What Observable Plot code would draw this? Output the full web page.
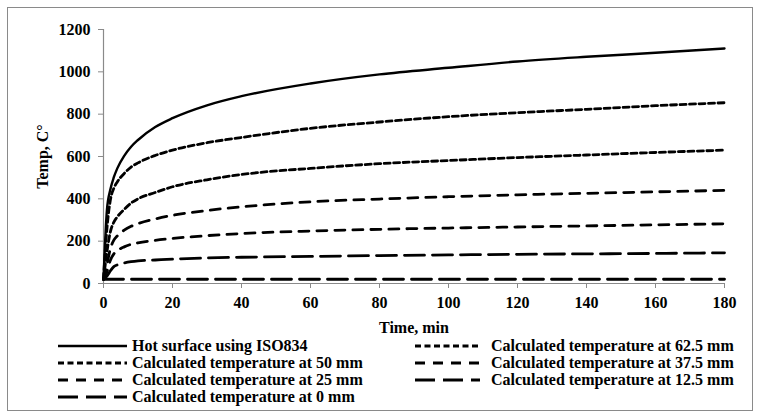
<!DOCTYPE html>
<html>
<head>
<meta charset="utf-8">
<script src="https://cdn.jsdelivr.net/npm/d3@7"></script>
<script src="https://cdn.jsdelivr.net/npm/@observablehq/plot@0.6"></script>
<style>
  html, body { margin: 0; padding: 0; background: #fff; }
  body { width: 760px; height: 417px; position: relative; overflow: hidden;
         font-family: "Liberation Serif", "Times New Roman", serif; font-weight: bold; font-size: 16px; color: #000; }
  #frame { position: absolute; left: 7px; top: 7px; width: 746px; height: 404px; box-sizing: border-box;
           border: 1px solid #8a8a8a; pointer-events: none; }
  #chart { position: absolute; left: 0; top: 0; }
  .item { position: absolute; display: flex; align-items: center; height: 18px; white-space: nowrap; line-height: 18px; }
  .item svg { display: block; }
</style>
</head>
<body>
<div id="chart"></div>
<div id="legend"></div>
<div id="frame"></div>
<script>
// ---- data ----
const time = [0, 1, 2, 3, 4, 6, 8, 10, 15, 20, 30, 40, 60, 80, 100, 120, 140, 160, 180];
const hotSurface = [20, 349, 445, 502, 544, 603, 646, 678, 739, 781, 842, 885, 945, 988, 1019, 1049, 1071, 1090, 1110];
const at62_5 = [20, 260, 395, 450, 480, 520, 550, 570, 605, 630, 665, 690, 733, 763, 788, 807, 823, 840, 854];
const at50 = [20, 150, 245, 290, 315, 350, 380, 400, 430, 457, 490, 515, 544, 566, 581, 595, 607, 619, 630];
const at37_5 = [20, 90, 165, 205, 225, 252, 270, 283, 305, 322, 345, 362, 386, 399, 410, 419, 426, 433, 440];
const at25 = [20, 55, 110, 140, 155, 173, 185, 192, 204, 213, 226, 236, 248, 256, 262, 267, 272, 277, 282];
const at12_5 = [20, 35, 60, 80, 88, 97, 103, 107, 111, 115, 121, 124, 128, 132, 135, 138, 140, 142, 145];
const at0 = [20, 20, 20, 20, 20, 20, 20, 20, 20, 20, 20, 20, 20, 20, 20, 20, 20, 20, 20];

const seriesNames = [
  "Hot surface using ISO834",
  "Calculated temperature at 62.5 mm",
  "Calculated temperature at 50 mm",
  "Calculated temperature at 37.5 mm",
  "Calculated temperature at 25 mm",
  "Calculated temperature at 12.5 mm",
  "Calculated temperature at 0 mm"
];
const seriesValues = [hotSurface, at62_5, at50, at37_5, at25, at12_5, at0];
const xTicks = [0, 20, 40, 60, 80, 100, 120, 140, 160, 180];
const yTicks = [0, 200, 400, 600, 800, 1000, 1200];

// ---- styles ----
const lineStyles = [
  {dash: null, width: 2.4},
  {dash: "6,3.5", width: 2.8},
  {dash: "6,3.5", width: 2.8},
  {dash: "10,8", width: 2.8},
  {dash: "10,8", width: 2.8},
  {dash: "20,8", width: 2.8},
  {dash: "20,8", width: 2.8}
];

const rows = [];
seriesNames.forEach((name, s) => {
  time.forEach((t, i) => rows.push({series: name, t, v: seriesValues[s][i]}));
});

const lineMarks = seriesNames.map((name, s) =>
  Plot.line(rows.filter(d => d.series === name), {
    x: "t", y: "v", stroke: "black",
    strokeWidth: lineStyles[s].width,
    strokeDasharray: lineStyles[s].dash || undefined,
    curve: "monotone-x"
  })
);

const chart = Plot.plot({
  width: 760,
  height: 340,
  marginLeft: 103,
  marginRight: 36,
  marginTop: 29,
  marginBottom: 57,
  style: {
    fontFamily: "'Liberation Serif', 'Times New Roman', serif",
    fontSize: "16px",
    fontWeight: "bold",
    color: "black",
    background: "transparent",
    overflow: "visible"
  },
  x: {domain: [0, 180]},
  y: {domain: [0, 1200]},
  marks: [
    Plot.axisX({ticks: xTicks, tickSize: 5, tickPadding: 8, stroke: "#8a8a8a", fill: "black",
      tickFormat: d3.format("d"), label: "Time, min", labelAnchor: "center", labelOffset: 49, labelArrow: "none"}),
    Plot.axisY({ticks: yTicks, tickSize: 5, tickPadding: 8, stroke: "#8a8a8a", fill: "black",
      tickFormat: d3.format("d"), label: "Temp, C°", labelAnchor: "center", labelOffset: 67, labelArrow: "none"}),
    Plot.ruleY([0], {stroke: "#8a8a8a", strokeWidth: 1.2}),
    Plot.ruleX([0], {stroke: "#8a8a8a", strokeWidth: 1.2}),
    ...lineMarks
  ]
});
document.getElementById("chart").appendChild(chart);

// ---- legend (HTML) ----
const legendPos = [
  {left: 58, top: 346, w: 69, gap: 5},
  {left: 415, top: 346, w: 65, gap: 11},
  {left: 58, top: 363, w: 69, gap: 5},
  {left: 415, top: 363, w: 65, gap: 11},
  {left: 58, top: 380, w: 69, gap: 5},
  {left: 415, top: 380, w: 65, gap: 11},
  {left: 58, top: 397, w: 69, gap: 5}
];
const legend = document.getElementById("legend");
seriesNames.forEach((name, s) => {
  const p = legendPos[s];
  const item = document.createElement("div");
  item.className = "item";
  item.style.left = p.left + "px";
  item.style.top = (p.top - 9) + "px";
  const st = lineStyles[s];
  item.innerHTML =
    `<svg width="${p.w}" height="6" style="margin-right:${p.gap}px"><line x1="0" x2="${p.w}" y1="3" y2="3" stroke="black" stroke-width="${st.width}" ${st.dash ? `stroke-dasharray="${st.dash}"` : ""}/></svg><span>${name}</span>`;
  legend.appendChild(item);
});
</script>
</body>
</html>
